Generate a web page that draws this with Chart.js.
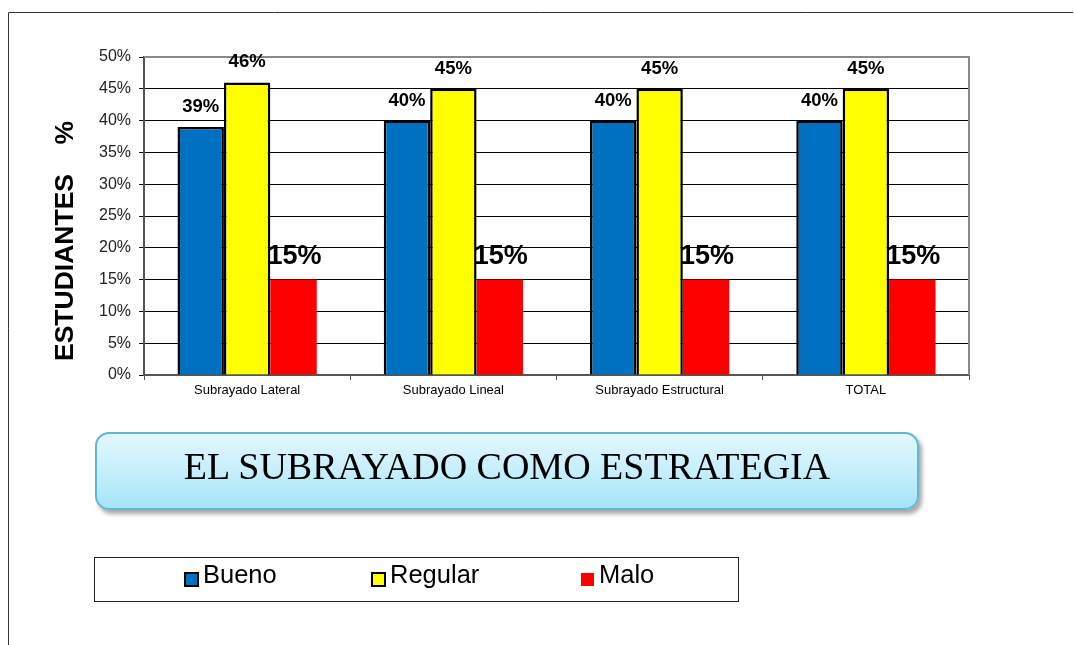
<!DOCTYPE html>
<html>
<head>
<meta charset="utf-8">
<script src="https://cdn.jsdelivr.net/npm/chart.js@4.4.1/dist/chart.umd.min.js"></script>
<style>
  html, body { margin: 0; padding: 0; background: #fff; }
  .wrap { position: relative; width: 1074px; height: 645px; }
  .titleBox {
    position: absolute; left: 95px; top: 432px; width: 820px; height: 74px;
    border: 2px solid #62b6d2; border-radius: 14px;
    background: linear-gradient(to bottom, #e2f7fd 0%, #c6effb 50%, #a6e3f8 100%);
    box-shadow: 3px 4px 4px rgba(0,0,0,0.35);
    font-family: "Liberation Serif", "DejaVu Serif", serif; font-size: 38px;
    color: #000; text-align: center; line-height: 64px;
  }
</style>
</head>
<body>
<div class="wrap">
  <canvas id="chart" width="1074" height="645"></canvas>
  <div class="titleBox">EL SUBRAYADO COMO ESTRATEGIA</div>
</div>
<script>
const categories = ['Subrayado Lateral', 'Subrayado Lineal', 'Subrayado Estructural', 'TOTAL']
const seriesNames = ['Bueno', 'Regular', 'Malo']
const bueno = [39, 40, 40, 40]
const regular = [46, 45, 45, 45]
const malo = [15, 15, 15, 15]
const yTitle = 'ESTUDIANTES    %'

const colors = ['#0070C0', '#FFFF00', '#FF0000']
const borders = [2.5, 2.5, 0]

// frame, axis title, data labels and legend box
const extras = {
    id: 'extras',
    afterDraw(chart) {
        const ctx = chart.ctx
        const area = chart.chartArea
        ctx.save()

        // outer frame (top + left)
        ctx.strokeStyle = '#333'
        ctx.lineWidth = 1
        ctx.beginPath()
        ctx.moveTo(8.5, 645)
        ctx.lineTo(8.5, 12.5)
        ctx.lineTo(1073, 12.5)
        ctx.stroke()

        // plot area top/right border
        ctx.strokeStyle = '#888'
        ctx.lineWidth = 2
        ctx.beginPath()
        ctx.moveTo(area.left, area.top)
        ctx.lineTo(area.right, area.top)
        ctx.lineTo(area.right, area.bottom)
        ctx.stroke()

        // y axis title
        ctx.fillStyle = '#000'
        ctx.font = 'bold 26.5px "Liberation Sans", Arial, sans-serif'
        ctx.textAlign = 'center'
        ctx.textBaseline = 'middle'
        ctx.translate(66, 241)
        ctx.rotate(-Math.PI / 2)
        ctx.fillText(yTitle, 0, 0)
        ctx.setTransform(1, 0, 0, 1, 0, 0)

        // data labels
        chart.data.datasets.forEach((ds, i) => {
            const meta = chart.getDatasetMeta(i)
            ctx.font = i === 2 ? 'bold 27px "Liberation Sans", Arial, sans-serif'
                               : 'bold 18.5px "Liberation Sans", Arial, sans-serif'
            ctx.textAlign = 'center'
            ctx.textBaseline = 'alphabetic'
            meta.data.forEach((bar, j) => {
                const off = i === 2 ? 16 : 15
                ctx.fillText(ds.data[j] + '%', bar.x + (i === 2 ? 1 : 0), bar.y - off)
            })
        })

        // legend box
        ctx.strokeStyle = '#222'
        ctx.lineWidth = 1
        ctx.strokeRect(94.5, 557.5, 644, 44)
        const xs = [185, 372, 581]
        ctx.font = '25.5px "Liberation Sans", Arial, sans-serif'
        ctx.textAlign = 'left'
        chart.data.datasets.forEach((ds, i) => {
            const x = xs[i]
            ctx.fillStyle = ds.backgroundColor
            ctx.fillRect(x, 573, 13, 13)
            if (ds.borderWidth) {
                ctx.strokeStyle = '#000'
                ctx.lineWidth = 2
                ctx.strokeRect(x, 573, 13, 13)
            }
            ctx.fillStyle = '#000'
            ctx.fillText(ds.label, x + 18, 583)
        })
        ctx.restore()
    }
}

new Chart(document.getElementById('chart'), {
    type: 'bar',
    data: {
        labels: categories,
        datasets: [bueno, regular, malo].map((d, i) => ({
            label: seriesNames[i],
            data: d,
            backgroundColor: colors[i],
            borderColor: '#000',
            borderWidth: borders[i],
            categoryPercentage: 0.675,
            barPercentage: 1
        }))
    },
    options: {
        responsive: false,
        animation: false,
        layout: { padding: { top: 57, right: 105, left: 0, bottom: 240 } },
        plugins: {
            legend: { display: false },
            tooltip: { enabled: false }
        },
        scales: {
            x: {
                afterFit: s => { s.height = 30 },
                grid: { offset: true, drawOnChartArea: false, drawTicks: true, tickLength: 5, color: '#555' },
                border: { color: '#555', width: 2 },
                ticks: {
                    color: '#000', padding: 3,
                    font: { family: '"Liberation Sans", Arial, sans-serif', size: 13 }
                }
            },
            y: {
                min: 0, max: 50,
                afterFit: s => { s.width = 144 },
                grid: { color: '#000', lineWidth: 1, tickLength: 5, drawTicks: true },
                border: { color: '#555', width: 2 },
                ticks: {
                    stepSize: 5, color: '#222', padding: 8,
                    callback: v => v + '%',
                    font: { family: '"Liberation Sans", Arial, sans-serif', size: 16 }
                }
            }
        }
    },
    plugins: [extras]
})
</script>
</body>
</html>
